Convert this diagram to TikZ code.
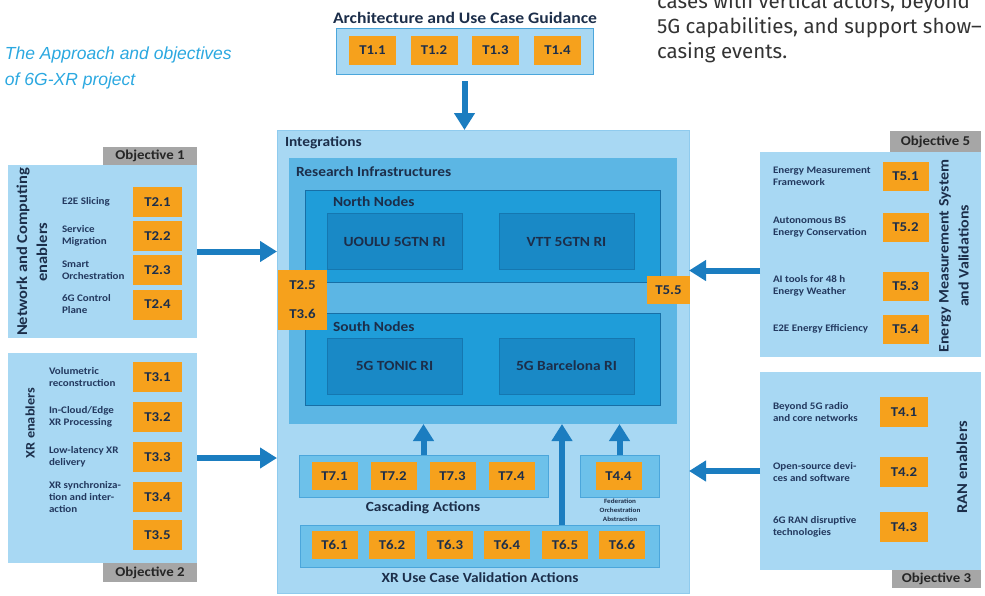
\documentclass[tikz,border=0pt]{standalone}
\usepackage{fontspec}
\usepackage{xcolor}
\usepackage{tikz}
\usetikzlibrary{arrows.meta, positioning, calc}
\newfontfamily\diagfont[FakeStretch=1.1]{Carlito}
\newfontfamily\captionfont{Liberation Sans}
\newfontfamily\bodyfont{Fira Sans}
\definecolor{paleblue}{HTML}{A8D8F3}
\definecolor{paleedge}{HTML}{8FCBEE}
\definecolor{infrablue}{HTML}{5CB6E4}
\definecolor{nodesblue}{HTML}{1F9DD9}
\definecolor{nodesedge}{HTML}{176FA6}
\definecolor{ribox}{HTML}{1989C6}
\definecolor{riedge}{HTML}{1577B0}
\definecolor{groupblue}{HTML}{6DC1EA}
\definecolor{groupedge}{HTML}{4BA6DB}
\definecolor{taskorange}{HTML}{F6A11C}
\definecolor{tabgray}{HTML}{A6A6A6}
\definecolor{arrowblue}{HTML}{1B7DC0}
\definecolor{navytext}{HTML}{1C2E4A}
\definecolor{sidenavy}{HTML}{23395F}
\definecolor{captionblue}{HTML}{2BA8E0}

\begin{document}
\begin{tikzpicture}[x=1pt, y=-1pt,
    every node/.style={inner sep=0pt, outer sep=0pt},
    panel/.style={fill=paleblue, draw=paleedge, line width=0.8pt, anchor=north west},
    group/.style={fill=groupblue, draw=groupedge, line width=0.8pt, anchor=north west},
    tab/.style={fill=tabgray, text=black!85, anchor=north west,
        font=\diagfont\bfseries\fontsize{13.5}{15}\selectfont},
    task/.style={fill=taskorange, text=navytext, minimum width=47pt, minimum height=29pt,
        font=\diagfont\bfseries\fontsize{13.5}{15}\selectfont},
    heading/.style={anchor=west, text=navytext, font=\diagfont\bfseries\fontsize{14}{16}\selectfont},
    sidelbl/.style={anchor=west, align=left, text=sidenavy,
        font=\diagfont\bfseries\fontsize{10}{12}\selectfont},
    vlabel/.style={rotate=90, align=center, text=navytext,
        font=\diagfont\bfseries\fontsize{15}{20}\selectfont},
    ribx/.style={fill=ribox, draw=riedge, line width=0.8pt, minimum width=135pt, minimum height=56pt,
        text=navytext, font=\diagfont\bfseries\fontsize{14}{16}\selectfont},
    bigarrow/.style={draw=arrowblue, line width=6pt, -{Triangle[length=17pt, width=20pt]}}]
    \useasboundingbox (0,0) rectangle (985,595);
    % side texts
    \node[anchor=base west, align=left, text=captionblue,
        font=\captionfont\itshape\fontsize{17.5}{26}\selectfont] (caption) at (5,85)
        {The Approach and objectives\\of 6G-XR project};
    \node[anchor=base west, align=left, text=black!80,
        font=\bodyfont\fontsize{20.5}{25}\selectfont] (bodytext) at (657,58)
        {cases with vertical actors, beyond\\5G capabilities, and support show–\\casing events.};
    % architecture
    \node[text=navytext, font=\diagfont\bfseries\fontsize{16}{18}\selectfont] (archttl) at (465,18)
        {Architecture and Use Case Guidance};
    \node[group, fill=paleblue, draw=groupedge, minimum width=257pt, minimum height=46pt] (t1box) at (336,28) {};
    \foreach \i/\cx in {1/372.5, 2/434, 3/495.5, 4/557.5}
        \node[task] (t1-\i) at (\cx,50.5) {T1.\i};
    % integrations
    \node[panel, minimum width=412pt, minimum height=463pt] (integ) at (277,130) {};
    \node[heading] at (285,143) {Integrations};
    \node[fill=infrablue, anchor=north west, minimum width=388pt, minimum height=266pt] (ri) at (289,158) {};
    \node[heading] at (296,172) {Research Infrastructures};
    \node[fill=nodesblue, draw=nodesedge, line width=1pt, anchor=north west,
        minimum width=355pt, minimum height=92pt] (north) at (305,190) {};
    \node[heading] at (333,202) {North Nodes};
    \node[ribx] (uoulu) at (394.5,241.5) {UOULU 5GTN RI};
    \node[ribx] (vtt) at (566.5,241.5) {VTT 5GTN RI};
    \node[fill=nodesblue, draw=nodesedge, line width=1pt, anchor=north west,
        minimum width=355pt, minimum height=92pt] (south) at (305,313) {};
    \node[heading] at (333,327) {South Nodes};
    \node[ribx] (tonic) at (394.5,366) {5G TONIC RI};
    \node[ribx] (barca) at (566.5,366) {5G Barcelona RI};
    \node[task, minimum width=49pt, minimum height=60pt, align=center,
        font=\diagfont\bfseries\fontsize{13.5}{29}\selectfont] (t25) at (302.5,300) {T2.5\\T3.6};
    \node[task, minimum width=43pt, minimum height=28pt] (t55) at (668.5,290) {T5.5};
    % actions
    \node[group, minimum width=249pt, minimum height=42pt] (casc) at (299,455) {};
    \foreach \i/\cx in {1/334.5, 2/393.5, 3/452.5, 4/511.5}
        \node[task, minimum width=46pt, minimum height=28pt] (t7-\i) at (\cx,476) {T7.\i};
    \node[heading, anchor=center] at (423,508) {Cascading Actions};
    \node[group, minimum width=79pt, minimum height=42pt] (fedbox) at (580,455) {};
    \node[task, minimum width=46pt, minimum height=28pt] (t4-4) at (618.5,476) {T4.4};
    \node[align=center, text=navytext, font=\diagfont\bfseries\fontsize{6.5}{9}\selectfont] (fedlbl) at (620,510)
        {Federation\\Orchestration\\Abstraction};
    \node[group, minimum width=359pt, minimum height=42pt] (valbox) at (300,525) {};
    \foreach \i/\cx in {1/334.5, 2/392, 3/450, 4/507, 5/565, 6/622}
        \node[task, minimum width=46pt, minimum height=28pt] (t6-\i) at (\cx,545) {T6.\i};
    \node[heading, anchor=center] at (480,578) {XR Use Case Validation Actions};
    % objective 1
    \node[panel, draw=none, minimum width=189pt, minimum height=173pt] (obj1) at (8,165) {};
    \node[tab, minimum width=94pt, minimum height=18pt] (tab1) at (103,147) {Objective 1};
    \node[vlabel] (v1) at (32,252) {Network and Computing\\enablers};
    \foreach \i/\cy/\lbl in {1/202/{E2E Slicing}, 2/236/{Service\\Migration},
        3/270/{Smart\\Orchestration}, 4/304.5/{6G Control\\Plane}} {
        \node[task, minimum width=49pt, minimum height=30pt] (t2-\i) at (157.5,\cy) {T2.\i};
        \node[sidelbl] (l2-\i) at (62,\cy) {\lbl};
    }
    % objective 2
    \node[panel, draw=none, minimum width=189pt, minimum height=210pt] (obj2) at (8,353) {};
    \node[tab, minimum width=94pt, minimum height=19pt] (tab2) at (103,563) {Objective 2};
    \node[vlabel, font=\diagfont\bfseries\fontsize{13}{16}\selectfont] (v2) at (30,423) {XR enablers};
    \foreach \i/\cy/\lbl in {1/377/{Volumetric\\reconstruction}, 2/417/{In-Cloud/Edge\\XR Processing},
        3/457/{Low-latency XR\\delivery}, 4/497/{XR synchroniza-\\tion and inter-\\action}, 5/535/{}} {
        \node[task, minimum width=49pt, minimum height=30pt] (t3-\i) at (157.5,\cy) {T3.\i};
        \node[sidelbl] (l3-\i) at (49,\cy) {\lbl};
    }
    % objective 5
    \node[panel, draw=none, minimum width=221pt, minimum height=205pt] (obj5) at (760,152) {};
    \node[tab, minimum width=91pt, minimum height=21pt] (tab5) at (890,131) {Objective 5};
    \node[vlabel, font=\diagfont\bfseries\fontsize{14.5}{20}\selectfont] (v5) at (954,256)
        {Energy Measurement System\\and Validations};
    \foreach \i/\cy/\lbl in {1/176/{Energy Measurement\\Framework}, 2/227.5/{Autonomous BS\\Energy Conservation},
        3/286/{AI tools for 48 h\\Energy Weather}, 4/329/{E2E Energy Efficiency}} {
        \node[task, minimum width=46pt, minimum height=29pt] (t5-\i) at (905.5,\cy) {T5.\i};
        \node[sidelbl] (l5-\i) at (773,\cy) {\lbl};
    }
    % objective 3
    \node[panel, draw=none, minimum width=221pt, minimum height=198pt] (obj3) at (760,372) {};
    \node[tab, minimum width=89pt, minimum height=18pt] (tab3) at (892,570) {Objective 3};
    \node[vlabel] (v3) at (962,467) {RAN enablers};
    \foreach \i/\cy/\lbl in {1/412/{Beyond 5G radio\\and core networks}, 2/472/{Open-source devi-\\ces and software},
        3/527/{6G RAN disruptive\\technologies}} {
        \node[task, minimum width=48pt, minimum height=30pt] (t4-\i) at (904,\cy) {T4.\i};
        \node[sidelbl] (l4-\i) at (773,\cy) {\lbl};
    }
    % arrows
    \draw[bigarrow, shorten <=7pt] (t1box.south) -- (t1box.south |- integ.north);
    \draw[bigarrow] (obj1.east) -- (obj1.east -| integ.west);
    \draw[bigarrow] (obj2.east) -- (obj2.east -| integ.west);
    \draw[bigarrow] ([yshift=-16pt]obj5.west) -- ([yshift=-16pt]obj5.west -| integ.east);
    \draw[bigarrow] (obj3.west) -- (obj3.west -| integ.east);
    \draw[bigarrow] (casc.north) -- (casc.north |- ri.south);
    \draw[bigarrow] ([xshift=-3pt]t6-5.north |- valbox.north) -- ([xshift=-3pt]t6-5.north |- ri.south);
    \draw[bigarrow] (fedbox.north) -- (fedbox.north |- ri.south);
\end{tikzpicture}
\end{document}
